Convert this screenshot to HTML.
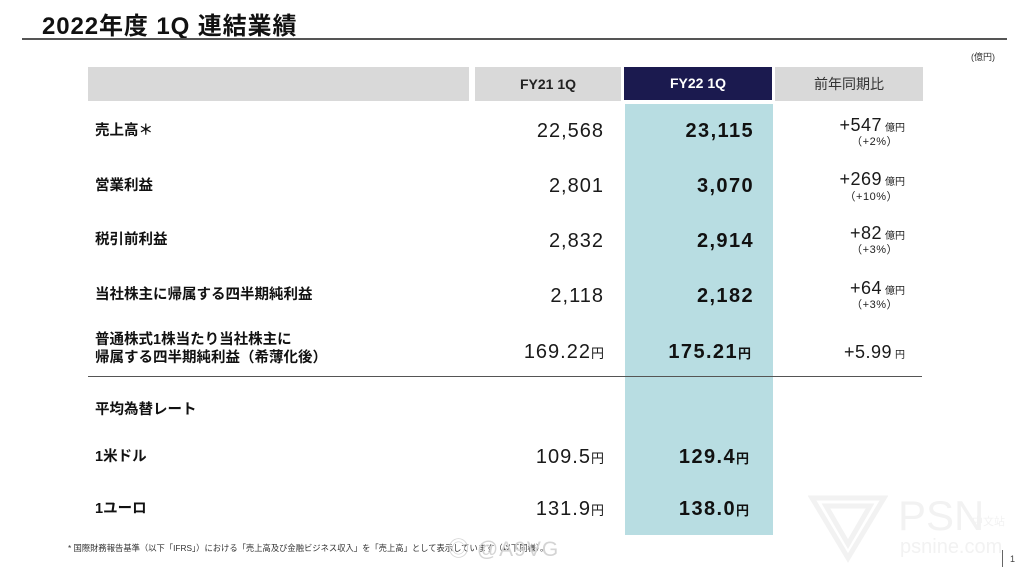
<!DOCTYPE html>
<html><head><meta charset="utf-8">
<style>
*{margin:0;padding:0;box-sizing:border-box}
html,body{width:1024px;height:573px;background:#fff;overflow:hidden}
body{position:relative;font-family:"Liberation Sans","Noto Sans CJK JP",sans-serif;color:#111}
.a{position:absolute;white-space:nowrap}
.lbl{left:95px;font-size:14.5px;font-weight:bold;height:20px;line-height:20px;font-family:"Liberation Sans","Noto Sans CJK JP",sans-serif}
.v1{right:420px;font-size:20px;height:24px;line-height:24px;letter-spacing:1px;color:#1a1a1a}
.v2{right:270px;font-size:20px;font-weight:bold;height:24px;line-height:24px;letter-spacing:1.4px;color:#111}
.ch{right:119px;font-size:18px;height:22px;line-height:22px;letter-spacing:0.5px;color:#1a1a1a}
.ch small{font-size:10px;letter-spacing:0;margin-left:3px}
.pc{right:126px;font-size:11px;height:14px;line-height:14px;color:#222;letter-spacing:0.5px}
.yen{font-size:13px;letter-spacing:0}
</style></head><body>

<!-- title -->
<div class="a" style="left:42px;top:14px;font-size:24px;font-weight:bold;line-height:26px;letter-spacing:0.9px;color:#111">2022年度 1Q 連結業績</div>
<div class="a" style="left:22px;top:38px;width:985px;height:1.5px;background:#555"></div>
<div class="a" style="left:971px;top:51px;font-size:9px;line-height:12px;color:#333">(億円)</div>

<!-- header -->
<div class="a" style="left:88px;top:67px;width:381px;height:34px;background:#d9d9d9"></div>
<div class="a" style="left:475px;top:67px;width:146px;height:34px;background:#d9d9d9;text-align:center;line-height:34px;font-size:14px;font-weight:bold;color:#222">FY21 1Q</div>
<div class="a" style="left:624px;top:67px;width:148px;height:33px;background:#1b1a4f;text-align:center;line-height:33px;font-size:14px;font-weight:bold;color:#fff">FY22 1Q</div>
<div class="a" style="left:775px;top:67px;width:148px;height:34px;background:#d9d9d9;text-align:center;line-height:34px;font-size:14px;color:#333">前年同期比</div>

<!-- teal column -->
<div class="a" style="left:625px;top:104px;width:148px;height:431px;background:#b8dde2"></div>

<!-- labels -->
<div class="a lbl" style="top:121px">売上高＊</div>
<div class="a lbl" style="top:176px">営業利益</div>
<div class="a lbl" style="top:230px">税引前利益</div>
<div class="a lbl" style="top:285px">当社株主に帰属する四半期純利益</div>
<div class="a lbl" style="top:330px">普通株式1株当たり当社株主に</div>
<div class="a lbl" style="top:348px">帰属する四半期純利益（希薄化後）</div>
<div class="a lbl" style="top:400px">平均為替レート</div>
<div class="a lbl" style="top:447px">1米ドル</div>
<div class="a lbl" style="top:499px">1ユーロ</div>

<!-- FY21 values -->
<div class="a v1" style="top:119px">22,568</div>
<div class="a v1" style="top:174px">2,801</div>
<div class="a v1" style="top:229px">2,832</div>
<div class="a v1" style="top:284px">2,118</div>
<div class="a v1" style="top:340px">169.22<span class="yen">円</span></div>
<div class="a v1" style="top:445px">109.5<span class="yen">円</span></div>
<div class="a v1" style="top:497px">131.9<span class="yen">円</span></div>

<!-- FY22 values -->
<div class="a v2" style="top:119px">23,115</div>
<div class="a v2" style="top:174px">3,070</div>
<div class="a v2" style="top:229px">2,914</div>
<div class="a v2" style="top:284px">2,182</div>
<div class="a v2" style="top:340px;right:273px">175.21<span class="yen">円</span></div>
<div class="a v2" style="top:445px;right:275px">129.4<span class="yen">円</span></div>
<div class="a v2" style="top:497px;right:275px">138.0<span class="yen">円</span></div>

<!-- change -->
<div class="a ch" style="top:114px">+547<small>億円</small></div>
<div class="a pc" style="top:135px">（+2%）</div>
<div class="a ch" style="top:168px">+269<small>億円</small></div>
<div class="a pc" style="top:190px">（+10%）</div>
<div class="a ch" style="top:222px">+82<small>億円</small></div>
<div class="a pc" style="top:243px">（+3%）</div>
<div class="a ch" style="top:277px">+64<small>億円</small></div>
<div class="a pc" style="top:298px">（+3%）</div>
<div class="a ch" style="top:341px">+5.99<small>円</small></div>

<!-- separator -->
<div class="a" style="left:88px;top:376px;width:834px;height:1px;background:#555"></div>

<!-- footnote -->
<div class="a" style="left:68px;top:543px;font-size:8.3px;line-height:10px;color:#333">* 国際財務報告基準（以下「IFRS」）における「売上高及び金融ビジネス収入」を「売上高」として表示しています（以下同様）。</div>

<!-- weibo watermark -->
<div class="a" style="left:448px;top:538px;font-size:21px;line-height:24px;color:#d4d4d4;letter-spacing:1px">◎ @A9VG</div>

<!-- PSN watermark -->
<svg class="a" style="left:808px;top:492px" width="80" height="72" viewBox="0 0 80 72">
<path d="M4 6 L76 6 L40 66 Z M18 14 L62 14 L40 52 Z" fill="none" stroke="#f2f2f2" stroke-width="5"/>
</svg>
<div class="a" style="left:898px;top:494px;font-size:42px;line-height:44px;color:#f2f2f2">PSN</div>
<div class="a" style="left:972px;top:516px;font-size:11px;line-height:12px;color:#f2f2f2">中文站</div>
<div class="a" style="left:900px;top:536px;font-size:20px;line-height:22px;color:#f2f2f2">psnine.com</div>

<!-- page number -->
<div class="a" style="left:1002px;top:550px;width:1px;height:17px;background:#666"></div>
<div class="a" style="left:1010px;top:553px;font-size:9px;line-height:12px;color:#444">1</div>

</body></html>
